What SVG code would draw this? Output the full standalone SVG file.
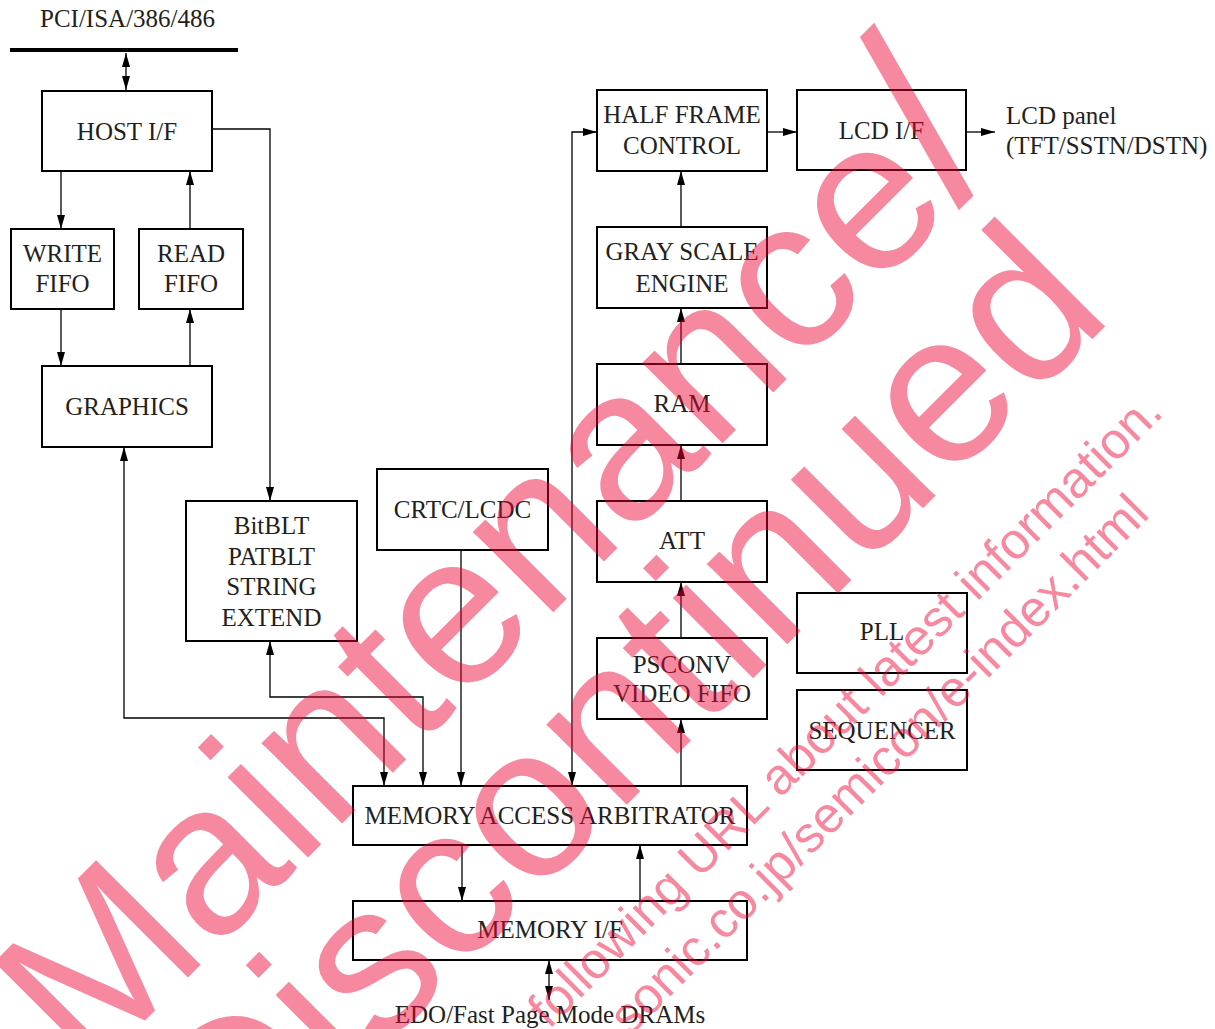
<svg xmlns="http://www.w3.org/2000/svg" width="1215" height="1029" viewBox="0 0 1215 1029">
<style>
.box{fill:#fff;stroke:#000;stroke-width:2}
.t{font-family:"Liberation Serif","Times New Roman",serif;font-size:25px;fill:#231f20;text-anchor:middle}
.ts{font-family:"Liberation Serif","Times New Roman",serif;font-size:25px;fill:#231f20}
.c{fill:none;stroke:#000;stroke-width:1.3}
.wm{font-family:"Liberation Sans",Arial,sans-serif;fill:#eb0433;fill-opacity:0.47}
</style>
<defs>
<marker id="ah" viewBox="0 0 14 8" refX="14" refY="4" markerWidth="14" markerHeight="8" markerUnits="userSpaceOnUse" orient="auto-start-reverse">
<path d="M0,0 L14,4 L0,8 z" fill="#000"/>
</marker>
</defs>
<rect width="1215" height="1029" fill="#fff"/>
<g id="connectors">
<path d="M10,50 H238" stroke="#000" stroke-width="4"/>
<path class="c" d="M126,53 V90" marker-start="url(#ah)" marker-end="url(#ah)"/>
<path class="c" d="M61,171 V229" marker-end="url(#ah)"/>
<path class="c" d="M190,229 V171" marker-end="url(#ah)"/>
<path class="c" d="M61,309 V366" marker-end="url(#ah)"/>
<path class="c" d="M190,366 V309" marker-end="url(#ah)"/>
<path class="c" d="M212,129 H270 V501" marker-end="url(#ah)"/>
<path class="c" d="M124,447 V718 H384 V786" marker-start="url(#ah)" marker-end="url(#ah)"/>
<path class="c" d="M270,641 V697 H423 V786" marker-start="url(#ah)" marker-end="url(#ah)"/>
<path class="c" d="M461,550 V786" marker-end="url(#ah)"/>
<path class="c" d="M572,786 V132 H597" marker-start="url(#ah)" marker-end="url(#ah)"/>
<path class="c" d="M681,786 V719" marker-end="url(#ah)"/>
<path class="c" d="M681,638 V582" marker-end="url(#ah)"/>
<path class="c" d="M681,501 V445" marker-end="url(#ah)"/>
<path class="c" d="M681,364 V308" marker-end="url(#ah)"/>
<path class="c" d="M681,227 V171" marker-end="url(#ah)"/>
<path class="c" d="M767,132 H797" marker-end="url(#ah)"/>
<path class="c" d="M966,132 H995" marker-end="url(#ah)"/>
<path class="c" d="M462,845 V901" marker-end="url(#ah)"/>
<path class="c" d="M640,901 V845" marker-end="url(#ah)"/>
<path class="c" d="M549,960 V1000" marker-start="url(#ah)" marker-end="url(#ah)"/>
</g>
<g id="bus-label"><text class="ts" x="40" y="27">PCI/ISA/386/486</text></g>
<g id="host"><rect class="box" x="42" y="91" width="170" height="80"/><text class="t" x="127" y="140">HOST I/F</text></g>
<g id="write-fifo"><rect class="box" x="11" y="229" width="103" height="80"/><text class="t" x="62.5" y="262">WRITE</text><text class="t" x="62.5" y="291.5">FIFO</text></g>
<g id="read-fifo"><rect class="box" x="139" y="229" width="104" height="80"/><text class="t" x="191" y="262">READ</text><text class="t" x="191" y="291.5">FIFO</text></g>
<g id="graphics"><rect class="box" x="42" y="366" width="170" height="81"/><text class="t" x="127" y="415">GRAPHICS</text></g>
<g id="bitblt"><rect class="box" x="186" y="501" width="171" height="140"/><text class="t" x="271.5" y="534">BitBLT</text><text class="t" x="271.5" y="564.5">PATBLT</text><text class="t" x="271.5" y="595">STRING</text><text class="t" x="271.5" y="625.5">EXTEND</text></g>
<g id="crtc"><rect class="box" x="377" y="469" width="171" height="81"/><text class="t" x="462.5" y="518">CRTC/LCDC</text></g>
<g id="half-frame"><rect class="box" x="597" y="90" width="170" height="81"/><text class="t" x="682" y="123">HALF FRAME</text><text class="t" x="682" y="154">CONTROL</text></g>
<g id="lcd-if"><rect class="box" x="797" y="90" width="169" height="80"/><text class="t" x="881.5" y="139">LCD I/F</text></g>
<g id="lcd-panel"><text class="ts" x="1006" y="124">LCD panel</text><text class="ts" x="1006" y="154">(TFT/SSTN/DSTN)</text></g>
<g id="gray-scale"><rect class="box" x="597" y="227" width="170" height="81"/><text class="t" x="682" y="260">GRAY SCALE</text><text class="t" x="682" y="292">ENGINE</text></g>
<g id="ram"><rect class="box" x="597" y="364" width="170" height="81"/><text class="t" x="682" y="412">RAM</text></g>
<g id="att"><rect class="box" x="597" y="501" width="170" height="81"/><text class="t" x="682" y="549">ATT</text></g>
<g id="psconv"><rect class="box" x="597" y="638" width="170" height="81"/><text class="t" x="682" y="672.5">PSCONV</text><text class="t" x="682" y="701.5">VIDEO FIFO</text></g>
<g id="pll"><rect class="box" x="797" y="593" width="170" height="80"/><text class="t" x="882" y="640">PLL</text></g>
<g id="sequencer"><rect class="box" x="797" y="690" width="170" height="80"/><text class="t" x="882" y="739">SEQUENCER</text></g>
<g id="arbitrator"><rect class="box" x="353" y="786" width="394" height="59"/><text class="t" x="550" y="824">MEMORY ACCESS ARBITRATOR</text></g>
<g id="memory-if"><rect class="box" x="353" y="901" width="394" height="59"/><text class="t" x="550" y="938">MEMORY I/F</text></g>
<g id="dram-label"><text class="t" x="550" y="1023">EDO/Fast Page Mode DRAMs</text></g>
<g id="watermark">
<g transform="translate(546.8,627.2) rotate(-45)">
<text class="wm" x="-645" y="-6" font-size="215">Maintenance<tspan font-size="262">/</tspan></text>
<text class="wm" x="0" y="182" font-size="215" text-anchor="middle">Discontinued</text>
</g>
<g transform="translate(761.4,817.6) rotate(-45)">
<text class="wm" x="-300.4" y="0" font-size="51">following URL about latest information.</text>
<text class="wm" x="-248" y="62" font-size="51">sonic.co.jp/semicon/e-index.html</text>
</g>
</g>
</svg>
